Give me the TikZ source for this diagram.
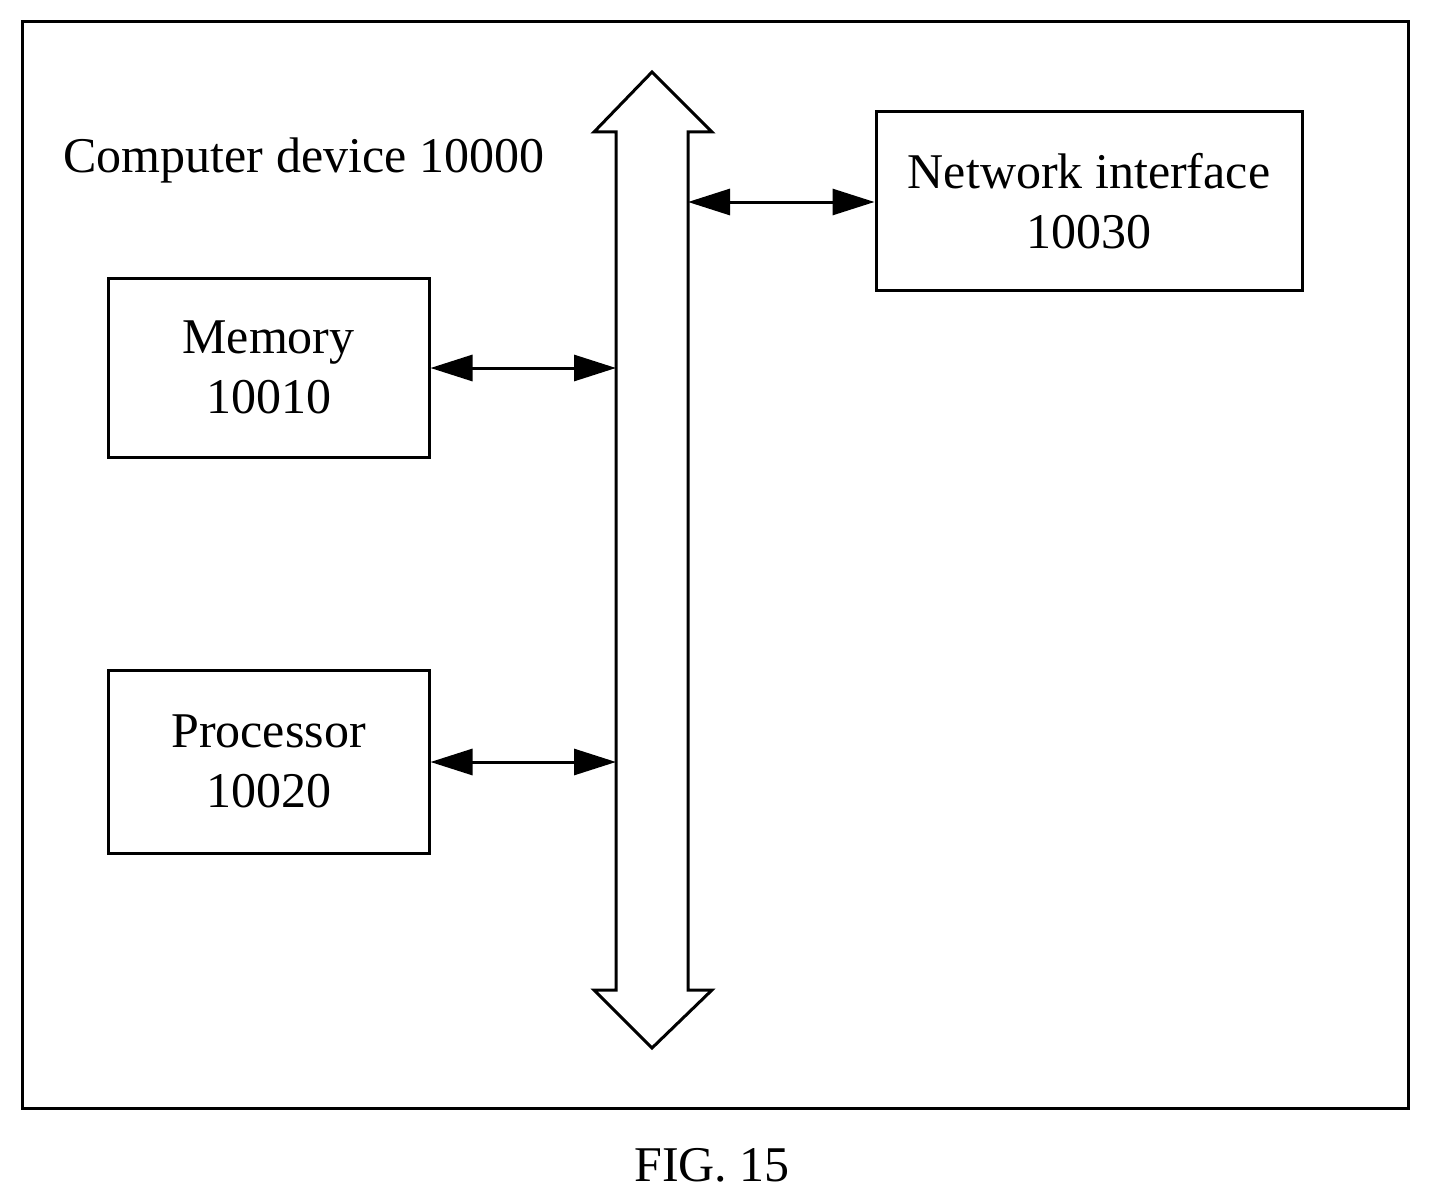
\documentclass[tikz,border=0pt]{standalone}
\usepackage{fontspec}
\setmainfont{Liberation Serif}
\usetikzlibrary{arrows.meta}
\begin{document}
\begin{tikzpicture}[x=0.5pt,y=-0.5pt,line width=1.5pt,
  box/.style={draw,line width=1.5pt,inner sep=0pt,align=center,font=\fontsize{25}{30}\selectfont},
  conn/.style={{Triangle[length=21pt,width=13pt]}-{Triangle[length=21pt,width=13pt]},line width=1.5pt}]
\useasboundingbox (0,0) rectangle (1430,1204);
\draw (22,22) rectangle (1408,1108);
\node[anchor=west,inner sep=0pt,font=\fontsize{25}{30}\selectfont] (title) at (62,160) {Computer device 10000};
\draw (652,72) -- (712,132) -- (688,132) -- (688,990) -- (712,990) -- (652,1048) -- (594,990) -- (616,990) -- (616,132) -- (594,132) -- cycle;
\coordinate (busM) at (616,368);
\coordinate (busP) at (616,762);
\coordinate (busN) at (688,202);
\node[box,minimum width=160.5pt,minimum height=89.5pt] (mem) at (268.5,367.5) {Memory\\10010};
\node[box,minimum width=160.5pt,minimum height=91.5pt] (proc) at (268.5,761.5) {Processor\\10020};
\node[box,minimum width=213pt,minimum height=89pt] (net) at (1089,201) {Network interface\\10030};
\draw[conn] (mem.east |- busM) -- (busM);
\draw[conn] (proc.east |- busP) -- (busP);
\draw[conn] (busN) -- (net.west |- busN);
\node[font=\fontsize{25}{30}\selectfont] (fig) at (712,1165) {FIG. 15};
\end{tikzpicture}
\end{document}
